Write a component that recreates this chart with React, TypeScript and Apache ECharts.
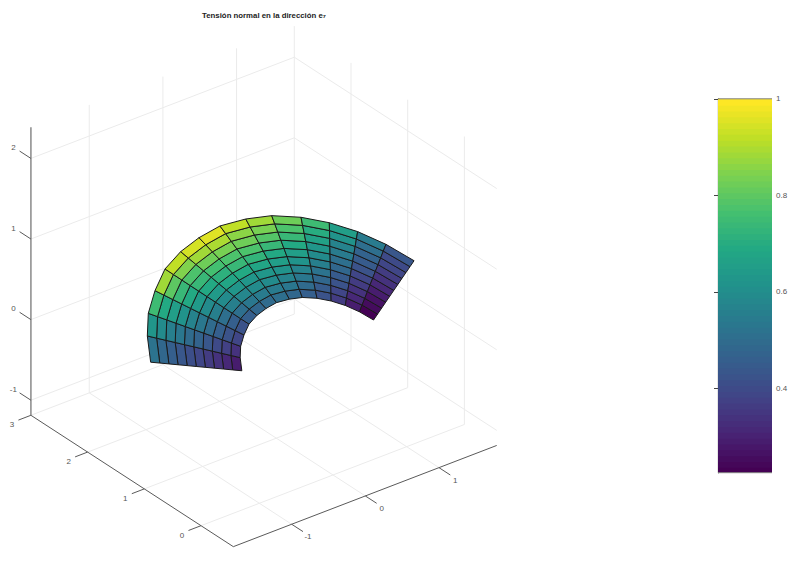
import React, { useEffect, useRef } from "react";
import * as echarts from "echarts";

const titleText = "Tensión normal en la dirección e₇";

// Surface: outer arc nodes (data coordinates) and radial fractions of them
const outerX = [-2.057, -1.903, -1.724, -1.477, -1.197, -0.882, -0.559, -0.222, 0.138, 0.473, 0.812, 1.111, 1.384, 1.63, 1.845];
const outerY = [0.544, 0.803, 1.018, 1.221, 1.408, 1.541, 1.637, 1.705, 1.718, 1.696, 1.619, 1.508, 1.363, 1.183, 0.967];
const outerZ = [0.686, 0.839, 0.959, 1.061, 1.146, 1.19, 1.206, 1.202, 1.156, 1.09, 0.986, 0.864, 0.724, 0.562, 0.382];
const radialFractions = [0.5, 0.55, 0.6, 0.65, 0.7, 0.75, 0.8, 0.85, 0.9, 0.95, 1];

// Stress value per cell: one row per angular sector, inner to outer radius
const cellValues = [
  [0.287, 0.31, 0.341, 0.365, 0.388, 0.411, 0.434, 0.458, 0.489, 0.52],
  [0.341, 0.372, 0.403, 0.434, 0.465, 0.496, 0.527, 0.558, 0.589, 0.628],
  [0.38, 0.419, 0.458, 0.496, 0.535, 0.574, 0.613, 0.651, 0.698, 0.752],
  [0.419, 0.458, 0.504, 0.551, 0.597, 0.644, 0.69, 0.737, 0.8, 0.885],
  [0.458, 0.504, 0.551, 0.597, 0.644, 0.69, 0.737, 0.783, 0.85, 0.93],
  [0.489, 0.535, 0.582, 0.628, 0.675, 0.721, 0.768, 0.822, 0.884, 0.946],
  [0.496, 0.543, 0.589, 0.636, 0.69, 0.737, 0.783, 0.837, 0.899, 0.969],
  [0.504, 0.543, 0.589, 0.636, 0.682, 0.729, 0.775, 0.822, 0.868, 0.923],
  [0.489, 0.527, 0.574, 0.613, 0.659, 0.698, 0.744, 0.791, 0.837, 0.892],
  [0.458, 0.496, 0.535, 0.574, 0.613, 0.651, 0.69, 0.737, 0.783, 0.83],
  [0.419, 0.45, 0.489, 0.52, 0.558, 0.589, 0.628, 0.667, 0.706, 0.752],
  [0.357, 0.388, 0.419, 0.45, 0.481, 0.512, 0.543, 0.574, 0.613, 0.659],
  [0.287, 0.31, 0.334, 0.365, 0.388, 0.419, 0.442, 0.473, 0.504, 0.543],
  [0.225, 0.248, 0.264, 0.287, 0.31, 0.334, 0.357, 0.38, 0.403, 0.434],
];

const xTicks = [-1, 0, 1];
const yTicks = [0, 1, 2, 3];
const zTicks = [-1, 0, 1, 2];
const xLim = [-1.792, 1.784];
const yLim = [-0.57, 3];
const zLim = [-1.187, 2.386];

const colorbarTicks = [0.4, 0.6, 0.8, 1];
const colorMin = 0.225;
const colorMax = 1;
const LEVELS = 64;

const viridisStops = [
  [68, 1, 84], [72, 36, 117], [65, 68, 135], [53, 95, 141], [42, 120, 142],
  [33, 145, 140], [34, 168, 132], [68, 191, 112], [122, 209, 81], [189, 223, 38], [253, 231, 37],
];

function levelColor(level: number): string {
  const t = (level / (LEVELS - 1)) * (viridisStops.length - 1);
  const i = Math.min(Math.floor(t), viridisStops.length - 2);
  const f = t - i;
  const c = viridisStops[i].map((a, k) => Math.round(a + (viridisStops[i + 1][k] - a) * f));
  return `rgb(${c[0]},${c[1]},${c[2]})`;
}

function valueColor(v: number): string {
  const t = (v - colorMin) / (colorMax - colorMin);
  return levelColor(Math.max(0, Math.min(LEVELS - 1, Math.round(t * (LEVELS - 1)))));
}

// Orthographic view of Octave's 3D axes
function project(x: number, y: number, z: number): [number, number] {
  return [333 + 73.65 * x - 56.7 * y, 379.3 - 28.3 * x - 36.8 * y - 80.6 * z];
}

type Seg = { a: number[]; b: number[]; kind: "grid" | "axis" | "zaxis" | "tick" };

const segments: Seg[] = [];
// floor grid
xTicks.forEach((x) => segments.push({ a: [x, yLim[0], zLim[0]], b: [x, yLim[1], zLim[0]], kind: "grid" }));
yTicks.forEach((y) => segments.push({ a: [xLim[0], y, zLim[0]], b: [xLim[1], y, zLim[0]], kind: "grid" }));
// back walls
xTicks.forEach((x) => segments.push({ a: [x, yLim[1], zLim[0]], b: [x, yLim[1], zLim[1]], kind: "grid" }));
yTicks.forEach((y) => segments.push({ a: [xLim[1], y, zLim[0]], b: [xLim[1], y, zLim[1]], kind: "grid" }));
zTicks.forEach((z) => {
  segments.push({ a: [xLim[0], yLim[1], z], b: [xLim[1], yLim[1], z], kind: "grid" });
  segments.push({ a: [xLim[1], yLim[0], z], b: [xLim[1], yLim[1], z], kind: "grid" });
});
// axes
segments.push({ a: [xLim[0], yLim[0], zLim[0]], b: [xLim[1], yLim[0], zLim[0]], kind: "axis" });
segments.push({ a: [xLim[0], yLim[0], zLim[0]], b: [xLim[0], yLim[1], zLim[0]], kind: "axis" });
segments.push({ a: [xLim[0], yLim[1], zLim[0]], b: [xLim[0], yLim[1], zLim[1]], kind: "zaxis" });
// ticks
xTicks.forEach((x) => segments.push({ a: [x, yLim[0], zLim[0]], b: [x, yLim[0] - 0.2, zLim[0]], kind: "tick" }));
yTicks.forEach((y) => segments.push({ a: [xLim[0], y, zLim[0]], b: [xLim[0] - 0.17, y, zLim[0]], kind: "tick" }));
zTicks.forEach((z) => segments.push({ a: [xLim[0], yLim[1], z], b: [xLim[0], yLim[1] + 0.2, z], kind: "tick" }));

const segStyle: Record<string, { stroke: string; lineWidth: number }> = {
  grid: { stroke: "#ebebeb", lineWidth: 1 },
  axis: { stroke: "#5a5a5a", lineWidth: 1 },
  zaxis: { stroke: "#808080", lineWidth: 1.4 },
  tick: { stroke: "#5a5a5a", lineWidth: 1 },
};

type Lbl = { text: string; at: number[]; dx: number; dy: number };
const labels: Lbl[] = [
  ...xTicks.map((x) => ({ text: String(x), at: [x, yLim[0], zLim[0]], dx: 16.3, dy: 12.7 })),
  ...yTicks.map((y) => ({ text: String(y), at: [xLim[0], y, zLim[0]], dx: -19, dy: 9.7 })),
  ...zTicks.map((z) => ({ text: String(z), at: [xLim[0], yLim[1], z], dx: -17.5, dy: -11 })),
];

const cells: number[][] = [];
cellValues.forEach((row, i) => row.forEach((v, j) => cells.push([i, j, v])));

const levels = Array.from({ length: LEVELS }, (_, i) => i);

function buildOption(): any {
  const FONT = '"Liberation Sans", Arial, sans-serif';
  const node = (i: number, j: number, api: any) => {
    const f = radialFractions[j];
    return api.coord(project(outerX[i] * f, outerY[i] * f, outerZ[i] * f));
  };
  return {
    animation: false,
    backgroundColor: "#ffffff",
    title: {
      text: titleText,
      left: 259,
      top: 6,
      textAlign: "center",
      textStyle: { fontFamily: FONT, fontSize: 7.8, fontWeight: "bold", color: "#222222" },
    },
    grid: [
      { left: 0, top: 0, width: 800, height: 566 },
      { left: 718, top: 98.8, width: 54, height: 373.9 },
    ],
    xAxis: [
      { type: "value", gridIndex: 0, min: 0, max: 800, show: false },
      { type: "value", gridIndex: 1, min: 0, max: 1, show: false },
    ],
    yAxis: [
      { type: "value", gridIndex: 0, min: 0, max: 566, inverse: true, show: false },
      {
        type: "value", gridIndex: 1, min: colorMin, max: colorMax, position: "right",
        splitLine: { show: false },
        axisLine: { show: true, lineStyle: { color: "#808080", width: 1.2 } },
        axisTick: { show: true, inside: true, length: 4, lineStyle: { color: "#444444" }, customValues: colorbarTicks },
        axisLabel: { show: true, margin: 4, fontFamily: FONT, fontSize: 8, color: "#555555", customValues: colorbarTicks, formatter: (v: number) => String(+v.toFixed(1)) },
      },
      {
        type: "value", gridIndex: 1, min: colorMin, max: colorMax, position: "left",
        splitLine: { show: false },
        axisLine: { show: true, lineStyle: { color: "#808080", width: 1.2 } },
        axisTick: { show: true, inside: true, length: 4, lineStyle: { color: "#444444" }, customValues: colorbarTicks },
        axisLabel: { show: false },
      },
    ],
    series: [
      {
        type: "custom", coordinateSystem: "cartesian2d", xAxisIndex: 0, yAxisIndex: 0, z: 1, silent: true,
        data: segments.map((_, i) => [i]), clip: false,
        renderItem: (_p: any, api: any) => {
          const s = segments[api.value(0)];
          const p = api.coord(project(s.a[0], s.a[1], s.a[2]));
          const q = api.coord(project(s.b[0], s.b[1], s.b[2]));
          return { type: "line", shape: { x1: p[0], y1: p[1], x2: q[0], y2: q[1] }, style: { ...segStyle[s.kind], fill: "none" } };
        },
      },
      {
        type: "custom", coordinateSystem: "cartesian2d", xAxisIndex: 0, yAxisIndex: 0, z: 2, silent: true,
        data: labels.map((_, i) => [i]), clip: false,
        renderItem: (_p: any, api: any) => {
          const l = labels[api.value(0)];
          const p = api.coord(project(l.at[0], l.at[1], l.at[2]));
          return {
            type: "text", x: p[0] + l.dx, y: p[1] + l.dy,
            style: { text: l.text, fontFamily: FONT, fontSize: 8, fill: "#555555", align: "center", verticalAlign: "middle" },
          };
        },
      },
      {
        type: "custom", coordinateSystem: "cartesian2d", xAxisIndex: 0, yAxisIndex: 0, z: 3, silent: true,
        data: cells, clip: false,
        renderItem: (_p: any, api: any) => {
          const i = api.value(0), j = api.value(1), v = api.value(2);
          const pts = [node(i, j, api), node(i + 1, j, api), node(i + 1, j + 1, api), node(i, j + 1, api)];
          return {
            type: "polygon", shape: { points: pts },
            style: { fill: valueColor(v), stroke: "#1a1a1a", lineWidth: 1 },
          };
        },
      },
      {
        type: "custom", coordinateSystem: "cartesian2d", xAxisIndex: 1, yAxisIndex: 1, z: 1, silent: true,
        data: levels.map((l) => [l]), clip: false,
        renderItem: (_p: any, api: any) => {
          const l = api.value(0);
          const lo = colorMin + (l / LEVELS) * (colorMax - colorMin);
          const hi = colorMin + ((l + 1) / LEVELS) * (colorMax - colorMin);
          const a = api.coord([0, hi]);
          const b = api.coord([1, lo]);
          // each step reaches under the next one so no seams show between them
          const extra = l > 0 ? 1 : 0;
          return {
            type: "rect", shape: { x: a[0], y: a[1], width: b[0] - a[0], height: b[1] - a[1] + extra },
            style: { fill: levelColor(l), stroke: "none" },
          };
        },
      },
      {
        // colour bar frame top and bottom edges
        type: "custom", coordinateSystem: "cartesian2d", xAxisIndex: 1, yAxisIndex: 1, z: 5, silent: true,
        data: [[colorMin], [colorMax]], clip: false,
        renderItem: (_p: any, api: any) => {
          const v = api.value(0);
          const a = api.coord([0, v]);
          const b = api.coord([1, v]);
          return { type: "line", shape: { x1: a[0], y1: a[1], x2: b[0], y2: b[1] }, style: { stroke: "#808080", lineWidth: 1 } };
        },
      },
    ],
  };
}

export default function App() {
  const ref = useRef<HTMLDivElement>(null);
  useEffect(() => {
    document.body.style.margin = "0";
    const chart = echarts.init(ref.current!, undefined, { renderer: "svg" });
    chart.setOption(buildOption());
    return () => chart.dispose();
  }, []);
  return <div ref={ref} style={{ width: 800, height: 566 }} />;
}
